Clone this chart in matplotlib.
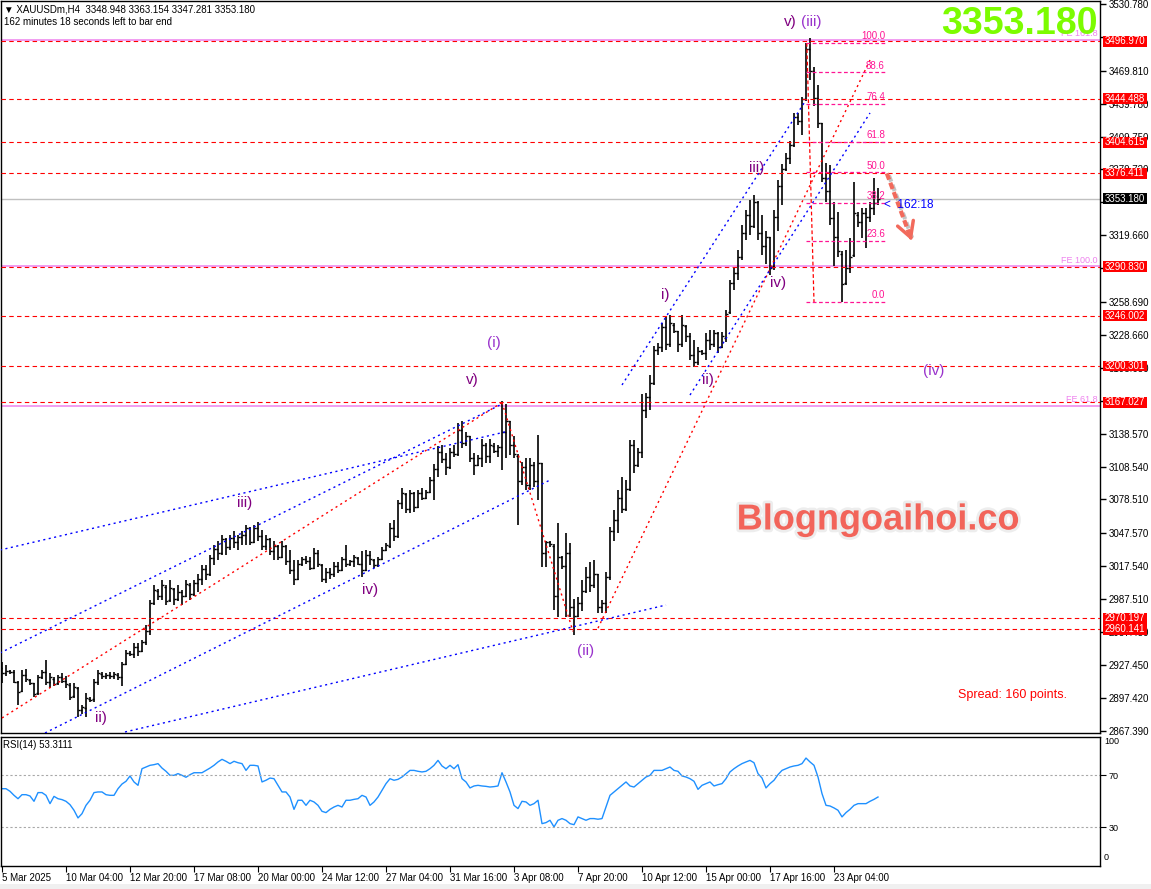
import matplotlib
matplotlib.use("Agg")
import matplotlib.pyplot as plt
import matplotlib.patheffects as pe
from matplotlib.patches import Rectangle
from matplotlib.transforms import blended_transform_factory
import numpy as np

plt.rcParams['font.family'] = ['Liberation Sans', 'DejaVu Sans']

W, H = 1151, 889

# XAUUSDm H4 bars
bar_open = [
    2925, 2920, 2922, 2921, 2912, 2904, 2918, 2914, 2911, 2902,
    2916, 2921, 2912, 2915, 2911, 2916, 2913, 2909, 2899, 2906,
    2886, 2888, 2896, 2896, 2912, 2919, 2917, 2918, 2917, 2918,
    2916, 2928, 2938, 2937, 2944, 2940, 2948, 2958, 2984, 2995,
    2990, 2999, 2987, 2997, 2988, 2994, 2990, 3000, 2992, 3002,
    3006, 3015, 3010, 3025, 3033, 3030, 3042, 3035, 3043, 3040,
    3044, 3046, 3052, 3040, 3052, 3045, 3036, 3042, 3031, 3036,
    3026, 3036, 3022, 3014, 3006, 3020, 3024, 3022, 3016, 3030,
    3019, 3006, 3012, 3010, 3018, 3014, 3024, 3020, 3022, 3025,
    3020, 3014, 3028, 3023, 3019, 3024, 3032, 3036, 3052, 3045,
    3075, 3083, 3070, 3084, 3072, 3084, 3080, 3085, 3096, 3106,
    3122, 3115, 3108, 3122, 3120, 3142, 3130, 3136, 3116, 3110,
    3116, 3128, 3118, 3127, 3123, 3126, 3140, 3150, 3128, 3118,
    3095, 3108, 3092, 3110, 3095, 3112, 3030, 3040, 3036, 2990,
    3026, 3018, 3030, 2980, 2972, 2984, 2995, 3008, 3000, 3010,
    2980, 2984, 3008, 3050, 3060, 3080, 3070, 3088, 3128, 3110,
    3122, 3160, 3172, 3185, 3215, 3218, 3236, 3220, 3238, 3232,
    3220, 3237, 3228, 3210, 3204, 3214, 3212, 3224, 3220, 3230,
    3218, 3226, 3250, 3276, 3285, 3300, 3322, 3338, 3328, 3350,
    3322, 3310, 3318, 3292, 3336, 3365, 3380, 3390, 3402, 3428,
    3424, 3444, 3490, 3470, 3445, 3422, 3372, 3360, 3335, 3318,
    3303, 3276, 3290, 3302, 3338, 3332, 3340, 3336, 3345, 3348.948,
]
bar_high = [
    2930, 2927, 2923, 2923, 2913, 2923, 2924, 2915, 2911, 2918,
    2923, 2932, 2920, 2916, 2918, 2920, 2917, 2911, 2911, 2907,
    2891, 2902, 2898, 2915, 2923, 2921, 2920, 2921, 2921, 2920,
    2930, 2941, 2940, 2947, 2947, 2950, 2964, 2987, 3000, 2997,
    3005, 3000, 3005, 2998, 3000, 2996, 3005, 3002, 3005, 3010,
    3019, 3019, 3028, 3037, 3041, 3046, 3043, 3046, 3050, 3046,
    3050, 3055, 3053, 3055, 3058, 3051, 3046, 3043, 3041, 3037,
    3041, 3037, 3032, 3023, 3023, 3026, 3027, 3026, 3034, 3032,
    3020, 3016, 3016, 3021, 3021, 3026, 3037, 3023, 3028, 3026,
    3031, 3032, 3031, 3024, 3026, 3035, 3039, 3057, 3060, 3078,
    3089, 3084, 3087, 3085, 3087, 3089, 3087, 3099, 3111, 3127,
    3128, 3121, 3125, 3128, 3148, 3150, 3140, 3136, 3121, 3119,
    3134, 3130, 3134, 3130, 3128, 3168, 3166, 3150, 3136, 3120,
    3113, 3116, 3116, 3113, 3137, 3112, 3041, 3041, 3038, 3057,
    3027, 3048, 3039, 2988, 2989, 3005, 3017, 3021, 3023, 3010,
    2987, 3012, 3053, 3069, 3087, 3099, 3096, 3133, 3133, 3125,
    3175, 3176, 3192, 3219, 3221, 3240, 3245, 3247, 3240, 3232,
    3247, 3238, 3230, 3224, 3218, 3215, 3230, 3233, 3233, 3231,
    3231, 3251, 3279, 3290, 3306, 3329, 3343, 3352, 3356, 3351,
    3338, 3324, 3318, 3343, 3370, 3385, 3395, 3406, 3431, 3431,
    3446, 3495, 3500, 3473, 3457, 3422, 3386, 3384, 3350, 3341,
    3305, 3306, 3317, 3368, 3341, 3345, 3345, 3350, 3372, 3363.154,
]
bar_low = [
    2911, 2917, 2919, 2911, 2891, 2903, 2912, 2909, 2898, 2900,
    2915, 2909, 2906, 2908, 2909, 2911, 2906, 2895, 2897, 2880,
    2883, 2880, 2894, 2894, 2909, 2915, 2915, 2915, 2915, 2914,
    2908, 2927, 2936, 2934, 2936, 2939, 2946, 2955, 2982, 2987,
    2987, 2982, 2985, 2982, 2986, 2982, 2989, 2987, 2990, 2994,
    3000, 3005, 3009, 3019, 3023, 3028, 3028, 3032, 3034, 3032,
    3037, 3037, 3037, 3039, 3041, 3032, 3032, 3028, 3023, 3023,
    3025, 3019, 3010, 3000, 3005, 3018, 3020, 3014, 3015, 3017,
    3003, 3002, 3006, 3008, 3011, 3013, 3017, 3018, 3017, 3019,
    3008, 3013, 3019, 3016, 3017, 3023, 3031, 3034, 3041, 3043,
    3070, 3066, 3066, 3067, 3071, 3078, 3079, 3084, 3078, 3099,
    3112, 3101, 3106, 3117, 3118, 3125, 3127, 3113, 3101, 3109,
    3108, 3112, 3112, 3121, 3117, 3105, 3116, 3119, 3116, 3055,
    3092, 3087, 3087, 3090, 3078, 3017, 3017, 3035, 2978, 2971,
    3015, 2971, 2971, 2955, 2971, 2977, 2993, 2994, 2998, 2975,
    2975, 2975, 3005, 3041, 3048, 3066, 3068, 3086, 3103, 3108,
    3116, 3153, 3160, 3183, 3210, 3213, 3215, 3218, 3230, 3213,
    3218, 3222, 3206, 3199, 3201, 3210, 3206, 3215, 3218, 3212,
    3217, 3222, 3248, 3270, 3279, 3297, 3315, 3320, 3326, 3315,
    3302, 3293, 3283, 3288, 3324, 3347, 3378, 3385, 3400, 3420,
    3411, 3442, 3461, 3438, 3418, 3368, 3350, 3329, 3292, 3300,
    3259, 3274, 3285, 3300, 3327, 3317, 3308, 3332, 3338, 3347.281,
]
bar_close = [
    2920, 2922, 2921, 2912, 2903, 2918, 2915, 2911, 2901, 2916,
    2921, 2912, 2916, 2910, 2916, 2913, 2910, 2898, 2907, 2886,
    2889, 2897, 2895, 2912, 2920, 2917, 2918, 2917, 2919, 2916,
    2928, 2938, 2937, 2944, 2940, 2948, 2958, 2984, 2996, 2990,
    3000, 2986, 2998, 2988, 2994, 2990, 3001, 2992, 3002, 3006,
    3015, 3010, 3025, 3033, 3030, 3042, 3035, 3043, 3040, 3044,
    3046, 3052, 3040, 3052, 3045, 3036, 3042, 3031, 3036, 3026,
    3036, 3022, 3014, 3006, 3020, 3024, 3022, 3016, 3030, 3020,
    3006, 3012, 3010, 3018, 3014, 3024, 3020, 3022, 3026, 3020,
    3014, 3028, 3024, 3019, 3024, 3032, 3037, 3052, 3045, 3075,
    3084, 3070, 3084, 3072, 3084, 3080, 3085, 3096, 3106, 3122,
    3115, 3108, 3122, 3120, 3142, 3130, 3136, 3116, 3110, 3116,
    3128, 3118, 3128, 3123, 3126, 3140, 3150, 3128, 3120, 3095,
    3108, 3092, 3110, 3095, 3112, 3030, 3040, 3038, 2990, 3026,
    3018, 3030, 2980, 2972, 2984, 2995, 3008, 3000, 3010, 2980,
    2984, 3008, 3050, 3060, 3080, 3070, 3088, 3128, 3110, 3122,
    3160, 3172, 3185, 3215, 3218, 3236, 3220, 3240, 3232, 3220,
    3238, 3228, 3210, 3204, 3214, 3212, 3224, 3220, 3230, 3218,
    3228, 3248, 3276, 3285, 3300, 3322, 3338, 3328, 3350, 3322,
    3310, 3318, 3290, 3336, 3365, 3380, 3390, 3402, 3428, 3424,
    3444, 3490, 3470, 3445, 3422, 3372, 3360, 3335, 3318, 3305,
    3275, 3290, 3300, 3340, 3332, 3340, 3336, 3345, 3349, 3353.180,
]

rsi_values = [
    59.7, 59.7, 57.7, 54.6, 52.0, 55.1, 55.1, 54.1, 50.0, 56.7,
    56.7, 54.6, 48.2, 53.8, 52.0, 51.3, 50.0, 47.4, 43.1, 37.2,
    40.5, 46.9, 50.8, 56.7, 57.2, 57.2, 55.1, 54.6, 54.6, 59.7,
    63.3, 65.4, 69.5, 64.9, 62.3, 75.1, 76.4, 77.7, 78.2, 79.0,
    75.6, 73.1, 70.0, 70.0, 71.3, 70.0, 68.5, 70.5, 72.0, 72.0,
    72.0, 73.8, 75.6, 77.7, 80.3, 82.3, 80.8, 79.0, 80.8, 79.7,
    79.0, 73.8, 77.7, 77.7, 77.2, 64.9, 66.2, 67.9, 67.4, 62.3,
    57.2, 57.2, 53.3, 43.8, 50.8, 50.8, 46.9, 50.8, 49.5, 46.9,
    42.3, 41.3, 43.8, 45.6, 46.9, 45.6, 50.8, 50.8, 51.5, 52.0,
    54.6, 53.3, 46.9, 49.5, 53.3, 58.5, 63.6, 67.4, 66.2, 66.9,
    68.7, 71.3, 73.8, 73.8, 73.1, 72.6, 73.1, 75.1, 77.7, 81.5,
    77.2, 75.1, 77.7, 75.1, 78.2, 67.4, 64.9, 60.3, 61.8, 62.3,
    61.8, 61.5, 61.0, 61.3, 61.8, 72.0, 64.9, 57.2, 46.9, 44.4,
    50.0, 49.5, 46.9, 48.2, 50.8, 32.8, 33.6, 35.4, 30.3, 35.4,
    36.7, 35.4, 32.8, 32.0, 38.0, 36.7, 35.4, 36.7, 36.7, 36.2,
    36.7, 45.6, 54.6, 57.2, 59.7, 62.3, 64.9, 61.8, 61.0, 63.6,
    66.2, 68.7, 70.0, 73.8, 73.8, 73.8, 75.1, 76.4, 73.8, 73.1,
    69.5, 68.7, 67.4, 65.4, 59.2, 62.3, 63.6, 64.9, 61.8, 62.8,
    63.6, 67.4, 72.6, 75.1, 77.2, 79.0, 80.3, 81.5, 79.7, 71.3,
    67.9, 60.3, 63.6, 66.2, 70.5, 73.8, 75.1, 76.4, 77.2, 77.7,
    79.0, 83.3, 80.3, 77.7, 68.7, 55.9, 46.9, 46.4, 44.9, 43.1,
    38.0, 41.3, 43.8, 46.9, 48.2, 48.2, 48.2, 50.0, 51.5, 53.3,
]

date_ticks = [0, 16, 32, 48, 64, 80, 96, 112, 128, 144, 160, 176, 192, 208]
date_labels = ['5 Mar 2025', '10 Mar 04:00', '12 Mar 20:00', '17 Mar 08:00',
               '20 Mar 00:00', '24 Mar 12:00', '27 Mar 04:00', '31 Mar 16:00',
               '3 Apr 08:00', '7 Apr 20:00', '10 Apr 12:00', '15 Apr 00:00',
               '17 Apr 16:00', '23 Apr 04:00']

price_ticks = [3530.780, 3500.750, 3469.810, 3439.780, 3409.750, 3379.720,
               3349.690, 3319.660, 3289.630, 3258.690, 3228.660, 3198.630,
               3168.600, 3138.570, 3108.540, 3078.510, 3047.570, 3017.540,
               2987.510, 2957.480, 2927.450, 2897.420, 2867.390]
# tick labels that sit fully under a price box on the reference
hidden_ticks = [3500.750, 3349.690, 3289.630, 3168.600]

level_prices = [3496.970, 3444.488, 3404.615, 3376.411, 3290.830,
                3246.002, 3200.301, 3167.027, 2970.197, 2960.141]
current_price = 3353.180

fe_prices = [3497.9, 3291.2, 3163.8]
fe_names = ['FE 161.8', 'FE 100.0', 'FE 61.8']

fib_low, fib_high = 3259.0, 3495.5
fib_ratios = [0.0, 23.6, 38.2, 50.0, 61.8, 76.4, 88.6, 100.0]
fib_x = [201, 220.75]
fib_trend_x = [201.2, 203]
fib_trend_y = [3495.2, 3258.7]

# channel / wave lines (bar index, price)
red_x = [[0, 125], [125, 142.75], [149, 217.25]]
red_y = [[2879, 3167], [3167, 2958], [2961, 3481.5]]
blue_x = [[-0.5, 125.75], [-0.5, 124.5], [10.75, 137], [30.75, 166], [155, 201], [172, 217]]
blue_y = [[3032.3, 3140.1], [2938.3, 3164.7], [2865.3, 3096.2], [2866.2, 2982.1],
          [3183.0, 3443.1], [3173.8, 3431.3]]

wave_text = ['ii)', 'iii)', 'iv)', 'v)', '(i)', '(ii)', 'i)', 'ii)', 'iii)', 'iv)', 'v)', '(iii)', '(iv)']
wave_x = [24.75, 60.75, 92, 117.5, 123, 146, 165.75, 176.5, 188.75, 194, 197, 202.25, 233]
wave_y = [2879, 3075, 2996, 3187.5, 3221, 2940, 3265, 3187.5, 3381, 3276, 3514, 3514, 3196]

arrow_x = [221.2, 227.7]
arrow_y = [3376.2, 3312.3]

# ---- figure ----
fig = plt.figure(figsize=(W / 100, H / 100), dpi=100)
fig.patch.set_facecolor('white')

ax = fig.add_axes([1 / W, 1 - 733 / H, 1099 / W, 732 / H])
rsi_ax = fig.add_axes([1 / W, 1 - 866 / H, 1099 / W, 129 / H])

idx = np.arange(len(bar_close))
ax.vlines(idx, bar_low, bar_high, color='black', lw=1.2, zorder=3)
ax.hlines(bar_open, idx - 0.4, idx, color='black', lw=1, zorder=3)
ax.hlines(bar_close, idx, idx + 0.4, color='black', lw=1, zorder=3)

ax.set_xlim(-0.25, 274.5)
ax.set_ylim(2865.27, 3533.52)
ax.set_xticks([])
ax.yaxis.tick_right()
ax.set_yticks(price_ticks)
ax.set_yticklabels(['' if v in hidden_ticks else f'{v:.3f}' for v in price_ticks])
ax.tick_params(axis='y', direction='out', length=4, width=1, labelsize=7, pad=2)
for s in ax.spines.values():
    s.set_color('black')
    s.set_linewidth(1)

# horizontal levels
ax.axhline(current_price, color='#C0C0C0', lw=1, zorder=2)
for p in fe_prices:
    ax.axhline(p, color='#EE82EE', lw=1.1, zorder=2)
for p in level_prices:
    ax.axhline(p, color='red', lw=0.8, ls=(0, (4, 3)), zorder=4)
for p, n in zip(fe_prices, fe_names):
    ax.text(273.9, p + 1.5, n, color='#EE82EE', fontsize=6.5, ha='right', va='bottom', zorder=5)

# channel lines
for xs, ys in zip(red_x, red_y):
    ax.plot(xs, ys, color='red', lw=1, ls=(0, (1.5, 2.5)), zorder=4)
for xs, ys in zip(blue_x, blue_y):
    ax.plot(xs, ys, color='blue', lw=1, ls=(0, (1.5, 2.5)), zorder=4)

# fibonacci retracement
fib_color = '#FF1493'
ax.plot(fib_trend_x, fib_trend_y, color='red', lw=0.9, ls=(0, (3, 2)), zorder=4)
for r in fib_ratios:
    lv = fib_low + (fib_high - fib_low) * r / 100
    ax.plot(fib_x, [lv, lv], color=fib_color, lw=0.9, ls=(0, (3, 2)), zorder=4)
    ax.text(fib_x[1], lv + 1.2, f'{r:.1f}', color=fib_color, fontsize=7,
            ha='right', va='bottom', zorder=5)

# wave labels
for t, x, y in zip(wave_text, wave_x, wave_y):
    c = '#9932CC' if t.startswith('(') else '#800080'
    ax.text(x, y, t, color=c, fontsize=11, ha='center', va='center', zorder=6)

# forecast arrow
arrow_col = '#F26A5C'
ax.plot([arrow_x[0], arrow_x[1] - 0.5], [arrow_y[0], arrow_y[1] + 5], color=arrow_col, lw=3,
        ls=(0, (1.6, 0.8)), solid_capstyle='butt', zorder=6,
        path_effects=[pe.SimpleLineShadow(offset=(1.5, -1.5), shadow_color='#888888', alpha=0.5),
                      pe.Normal()])
ax.annotate('', xy=(arrow_x[1], arrow_y[1]), xytext=(arrow_x[1] - 0.8, arrow_y[1] + 8),
            arrowprops=dict(arrowstyle='->,head_length=0.9,head_width=0.5', color=arrow_col,
                            lw=2.5, mutation_scale=12), zorder=6)

ax.text(220.6, 3347.3, '<  162:18', color='blue', fontsize=8.5, ha='left', va='center', zorder=6)

# right side price boxes
trans = blended_transform_factory(fig.transFigure, ax.transData)
for p in level_prices:
    ax.add_patch(Rectangle((1103 / W, p - 5.0), 44 / W, 10.0, transform=trans,
                           fc='red', ec='none', clip_on=False, zorder=9))
    ax.text(1104.5 / W, p, f'{p:.3f}', transform=trans, color='white', fontsize=7,
            ha='left', va='center', zorder=10, clip_on=False)
ax.add_patch(Rectangle((1103 / W, current_price - 5.0), 44 / W, 10.0, transform=trans,
                       fc='black', ec='none', clip_on=False, zorder=9))
ax.text(1104.5 / W, current_price, f'{current_price:.3f}', transform=trans, color='white',
        fontsize=7, ha='left', va='center', zorder=10, clip_on=False)

# RSI panel
rsi_ax.plot(idx, rsi_values, color='#1E90FF', lw=1)
rsi_ax.axhline(70, color='#A8A8A8', lw=0.8, ls=(0, (2, 2)))
rsi_ax.axhline(30, color='#A8A8A8', lw=0.8, ls=(0, (2, 2)))
rsi_ax.set_xlim(-0.25, 274.5)
rsi_ax.set_ylim(0.2, 99.5)
rsi_ax.yaxis.tick_right()
rsi_ax.set_yticks([30, 70])
rsi_ax.set_yticklabels(['30', '70'])
rsi_ax.tick_params(axis='y', direction='out', length=4, labelsize=6.5, pad=2)
rsi_ax.set_xticks(date_ticks)
rsi_ax.set_xticklabels(date_labels)
rsi_ax.tick_params(axis='x', direction='out', length=4, labelsize=7, pad=1)
for lbl in rsi_ax.get_xticklabels():
    lbl.set_horizontalalignment('left')
for s in rsi_ax.spines.values():
    s.set_color('black')
    s.set_linewidth(1)

fig.text(1104 / W, 1 - 742 / H, '100', fontsize=6.5, ha='left', va='center')
fig.text(1104 / W, 1 - 858 / H, '0', fontsize=6.5, ha='left', va='center')
fig.text(3 / W, 1 - 745 / H, 'RSI(14) 53.3111', fontsize=7, ha='left', va='center')

# header and overlays
fig.text(4 / W, 1 - 10 / H, '\u25bc XAUUSDm,H4  3348.948 3363.154 3347.281 3353.180',
         fontsize=7, ha='left', va='center')
fig.text(4 / W, 1 - 22 / H, '162 minutes 18 seconds left to bar end',
         fontsize=7, ha='left', va='center')
fig.text(1098 / W, 1 - 24 / H, '3353.180', fontsize=27, fontweight='bold', color='#7CFC00',
         ha='right', va='center', zorder=20)
fig.text(878 / W, 1 - 520 / H, 'Blogngoaihoi.co', fontsize=26, fontweight='bold',
         color='#F2645A', ha='center', va='center',
         path_effects=[pe.withStroke(linewidth=4, foreground='#EDEDED')])
fig.text(958 / W, 1 - 695 / H, 'Spread: 160 points.', fontsize=9, color='red',
         ha='left', va='center')

fig.patches.append(Rectangle((0, 0), 1, 5 / H, transform=fig.transFigure,
                             fc='#F0F0F0', ec='none'))

fig.savefig('out.png', dpi=100)
